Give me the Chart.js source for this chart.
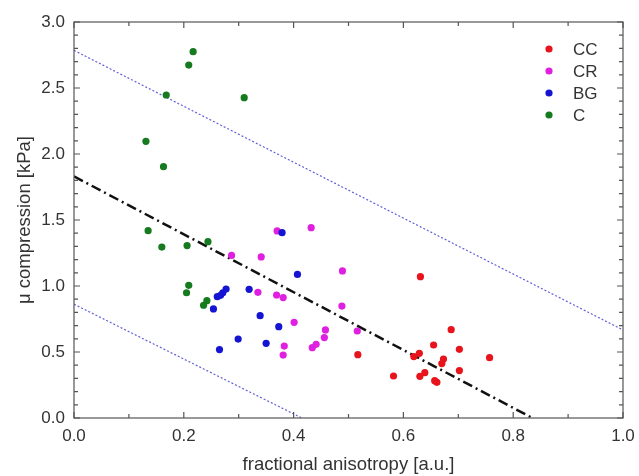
<!DOCTYPE html>
<html lang="en">
<head>
    <meta charset="UTF-8">
    <title>Compression modulus vs fractional anisotropy</title>
    <style>
        body {
            margin: 0;
            background: white;
        }
        #wrap {
            width: 639px;
            height: 476px;
        }
    </style>
</head>
<body>
    <div id="wrap">
        <canvas id="faChart" width="639" height="476"></canvas>
    </div>

    <script src="https://cdn.jsdelivr.net/npm/chart.js"></script>
    <script>
        // measured values per group: fractional anisotropy and compression modulus (kPa)
        const ccFA = [0.631, 0.687, 0.655, 0.702, 0.517, 0.629, 0.619, 0.757, 0.673, 0.670, 0.702, 0.639, 0.582, 0.630, 0.657, 0.661];
        const ccMu = [1.071, 0.669, 0.553, 0.520, 0.480, 0.490, 0.465, 0.457, 0.447, 0.412, 0.359, 0.343, 0.318, 0.316, 0.283, 0.270];

        const crFA = [0.370, 0.432, 0.287, 0.341, 0.489, 0.335, 0.369, 0.381, 0.488, 0.401, 0.458, 0.456, 0.441, 0.434, 0.383, 0.381, 0.516];
        const crMu = [1.417, 1.442, 1.232, 1.220, 1.114, 0.952, 0.932, 0.912, 0.848, 0.725, 0.667, 0.609, 0.558, 0.533, 0.545, 0.477, 0.659];

        const bgFA = [0.379, 0.407, 0.319, 0.277, 0.271, 0.267, 0.261, 0.254, 0.339, 0.373, 0.299, 0.350, 0.265];
        const bgMu = [1.404, 1.088, 0.975, 0.977, 0.949, 0.929, 0.919, 0.826, 0.775, 0.692, 0.598, 0.566, 0.518];

        const cFA = [0.217, 0.209, 0.168, 0.310, 0.131, 0.163, 0.135, 0.160, 0.206, 0.244, 0.209, 0.205, 0.242, 0.236];
        const cMu = [2.775, 2.674, 2.447, 2.427, 2.096, 1.904, 1.419, 1.295, 1.306, 1.336, 1.005, 0.949, 0.889, 0.854];

        // regression line and prediction band end points
        const fitFA = [0.0, 0.835];
        const fitMu = [1.83, 0.0];
        const upperFA = [0.0, 1.0];
        const upperMu = [2.785, 0.667];
        const lowerFA = [0.0, 0.415];
        const lowerMu = [0.862, 0.0];

        const groupLabels = ['CC', 'CR', 'BG', 'C'];
        const xTicks = [0, 0.2, 0.4, 0.6, 0.8, 1.0];
        const yTicks = [0, 0.5, 1.0, 1.5, 2.0, 2.5, 3.0];

        const toPoints = (xs, ys) => xs.map((x, i) => ({ x: x, y: ys[i] }));

        const FONT = 'Liberation Sans, Arial, sans-serif';
        const TEXT = '#333';
        const FRAME = '#555';

        function groupSet(label, xs, ys, color, order) {
            return {
                type: 'scatter',
                label: label,
                data: toPoints(xs, ys),
                backgroundColor: color,
                borderColor: color,
                pointRadius: 3.6,
                pointBorderWidth: 0,
                order: order
            };
        }

        function lineSet(xs, ys, color, width, dash) {
            return {
                type: 'line',
                data: toPoints(xs, ys),
                borderColor: color,
                borderWidth: width,
                borderDash: dash,
                pointRadius: 0,
                fill: false,
                order: 10
            };
        }

        // frame round the plot area plus inward ticks on all four sides
        const frameTicks = {
            id: 'frameTicks',
            afterDraw(chart) {
                const ctx = chart.ctx;
                const a = chart.chartArea;
                const xs = chart.scales.x;
                const ys = chart.scales.y;
                ctx.save();
                ctx.strokeStyle = FRAME;
                ctx.lineWidth = 1.2;
                ctx.strokeRect(a.left, a.top, a.right - a.left, a.bottom - a.top);
                ctx.beginPath();
                for (let i = 0; i <= 10; i++) {
                    const px = xs.getPixelForValue(i / 10);
                    const len = i % 2 === 0 ? 6 : 4;
                    ctx.moveTo(px, a.bottom);
                    ctx.lineTo(px, a.bottom - len);
                    ctx.moveTo(px, a.top);
                    ctx.lineTo(px, a.top + len);
                }
                for (let i = 0; i <= 30; i++) {
                    const py = ys.getPixelForValue(i / 10);
                    const len = i % 5 === 0 ? 6 : 4;
                    ctx.moveTo(a.left, py);
                    ctx.lineTo(a.left + len, py);
                    ctx.moveTo(a.right, py);
                    ctx.lineTo(a.right - len, py);
                }
                ctx.stroke();
                ctx.restore();
            }
        };

        // legend drawn inside the plot, top right
        const innerLegend = {
            id: 'innerLegend',
            afterDraw(chart) {
                const ctx = chart.ctx;
                ctx.save();
                ctx.font = '17px ' + FONT;
                ctx.textBaseline = 'middle';
                groupLabels.forEach((name, i) => {
                    const ds = chart.data.datasets.find(d => d.label === name);
                    const y = 49 + i * 22;
                    ctx.fillStyle = ds.backgroundColor;
                    ctx.beginPath();
                    ctx.arc(549, y, 3.6, 0, Math.PI * 2);
                    ctx.fill();
                    ctx.fillStyle = TEXT;
                    ctx.fillText(name, 573, y + 1);
                });
                ctx.restore();
            }
        };

        new Chart(document.getElementById('faChart'), {
            data: {
                datasets: [
                    groupSet('CC', ccFA, ccMu, '#e8141c', 0),
                    groupSet('CR', crFA, crMu, '#e020e0', 2),
                    groupSet('BG', bgFA, bgMu, '#1414d2', 1),
                    groupSet('C', cFA, cMu, '#167a1e', 3),
                    lineSet(fitFA, fitMu, '#111', 2.5, [10, 4, 2, 4]),
                    lineSet(upperFA, upperMu, '#6060d8', 1.2, [2, 2]),
                    lineSet(lowerFA, lowerMu, '#6060d8', 1.2, [2, 2])
                ]
            },
            options: {
                responsive: false,
                animation: false,
                layout: {
                    autoPadding: false,
                    padding: { top: 22, right: 16, left: 0, bottom: 0 }
                },
                plugins: {
                    legend: { display: false },
                    tooltip: { enabled: false }
                },
                scales: {
                    x: {
                        type: 'linear',
                        min: 0,
                        max: 1,
                        afterBuildTicks: s => { s.ticks = xTicks.map(v => ({ value: v })); },
                        afterFit: s => {
                            s.height = 58;
                            // let the end labels hang over the frame instead of shrinking the plot
                            s.paddingLeft = 0;
                            s.paddingRight = 0;
                        },
                        grid: { display: false, drawTicks: false },
                        border: { display: false },
                        ticks: {
                            padding: 8,
                            color: TEXT,
                            font: { family: FONT, size: 17 },
                            callback: v => v.toFixed(1)
                        },
                        title: {
                            display: true,
                            text: 'fractional anisotropy [a.u.]',
                            color: TEXT,
                            font: { family: FONT, size: 18.5 },
                            padding: { top: 0, bottom: 0 }
                        }
                    },
                    y: {
                        type: 'linear',
                        min: 0,
                        max: 3,
                        afterBuildTicks: s => { s.ticks = yTicks.map(v => ({ value: v })); },
                        afterFit: s => {
                            s.width = 74;
                            s.paddingTop = 0;
                            s.paddingBottom = 0;
                        },
                        grid: { display: false, drawTicks: false },
                        border: { display: false },
                        ticks: {
                            padding: 9,
                            color: TEXT,
                            font: { family: FONT, size: 17 },
                            callback: v => v.toFixed(1)
                        },
                        title: {
                            display: true,
                            text: 'μ compression [kPa]',
                            color: TEXT,
                            font: { family: FONT, size: 18.5 },
                            padding: { top: 14, bottom: 0 }
                        }
                    }
                }
            },
            plugins: [frameTicks, innerLegend]
        });
    </script>
</body>
</html>
